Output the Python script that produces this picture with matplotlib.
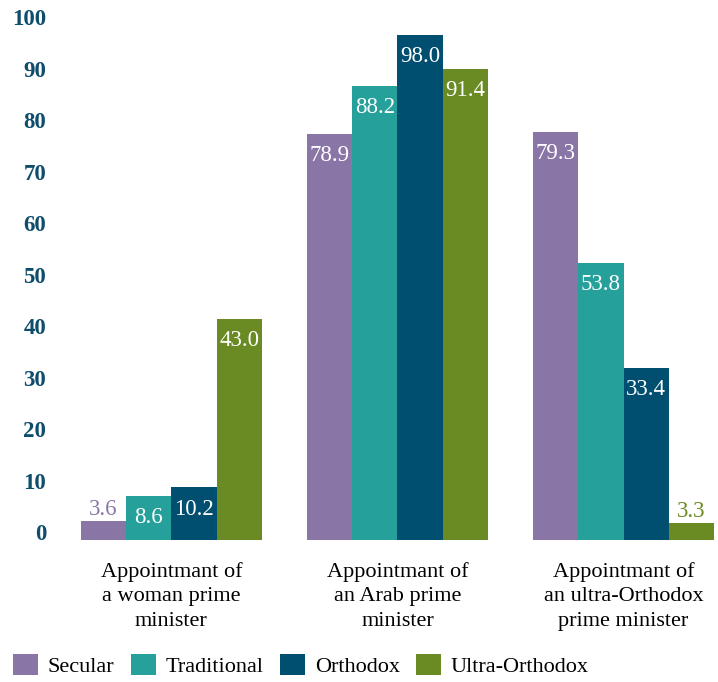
#!/usr/bin/env python3

import numpy as np
import matplotlib
matplotlib.use('Agg')
import matplotlib.pyplot as plt

# data
categories = ['Appointmant of\na woman prime\nminister',
	'Appointmant of\nan Arab prime\nminister',
	'Appointmant of\nan ultra-Orthodox\nprime minister']
groups = ['Secular', 'Traditional', 'Orthodox', 'Ultra-Orthodox']
secular = [3.6, 78.9, 79.3]
traditional = [8.6, 88.2, 53.8]
orthodox = [10.2, 98.0, 33.4]
ultra_orthodox = [43.0, 91.4, 3.3]
yticks = [0, 10, 20, 30, 40, 50, 60, 70, 80, 90, 100]

colors = ['#8a76a6', '#26a09a', '#004e70', '#6a8a23']
tick_color = '#0e4d6c'

def main():
	plt.rcParams['font.family'] = ['Liberation Serif', 'DejaVu Serif']

	fig = plt.figure(figsize=(7.18, 6.82), dpi=100)
	ax = fig.add_axes([0.1128, 0.2082, 0.9944 - 0.1128, 0.9633 - 0.2082])

	x = np.arange(len(categories))
	width = 0.2
	series = [secular, traditional, orthodox, ultra_orthodox]
	for i, (name, vals) in enumerate(zip(groups, series)):
		pos = x + (i - 1.5) * width
		bars = ax.bar(pos, vals, width=width, color=colors[i], label=name)
		for b, v in zip(bars, vals):
			cx = b.get_x() + b.get_width() / 2
			if v < 8:
				ax.annotate(f'{v:.1f}', (cx, v), xytext=(0, 1), textcoords='offset points',
					ha='center', va='bottom', fontsize=16.5, color=colors[i])
			else:
				ax.annotate(f'{v:.1f}', (cx, v), xytext=(0, -8), textcoords='offset points',
					ha='center', va='top', fontsize=16.5, color='white')

	ax.set_xlim(-0.4, 2.4)
	ax.set_ylim(0, 100)
	ax.set_yticks(yticks)
	ax.set_yticklabels([str(t) for t in yticks], fontsize=16.5, fontweight='bold', color=tick_color)
	for lbl in ax.get_yticklabels():
		lbl.set_va('baseline')
	ax.tick_params(axis='y', length=0, pad=25)
	ax.set_xticks(x)
	ax.set_xticklabels(categories, fontsize=16, linespacing=1.38)
	ax.tick_params(axis='x', length=0, pad=16)
	for s in ax.spines.values():
		s.set_visible(False)

	fig.legend(loc='lower left', bbox_to_anchor=(0.0, -0.012), ncol=4, frameon=False,
		fontsize=16, handlelength=1.1, handleheight=1.1, handletextpad=0.45,
		columnspacing=0.75, borderaxespad=0.2)

	fig.savefig('out.png', dpi=100)

if __name__ == "__main__":
	main()
